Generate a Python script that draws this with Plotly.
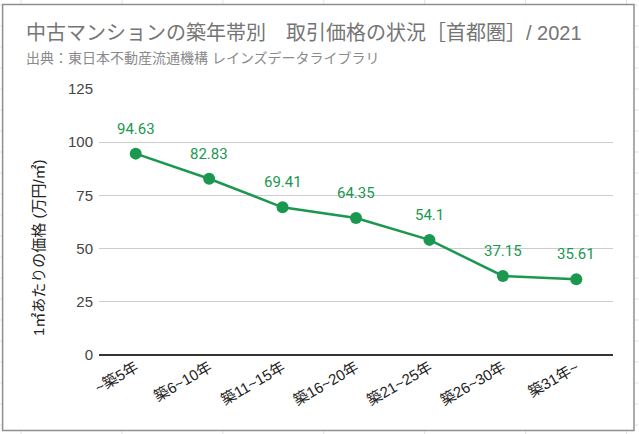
import plotly.graph_objects as go

categories = ["~築5年", "築6~10年", "築11~15年", "築16~20年", "築21~25年", "築26~30年", "築31年~"]
prices = [94.63, 82.83, 69.41, 64.35, 54.1, 37.15, 35.61]
price_labels = ["94.63", "82.83", "69.41", "64.35", "54.1", "37.15", "35.61"]
y_ticks = [0, 25, 50, 75, 100, 125]

title_text = "中古マンションの築年帯別　取引価格の状況［首都圏］/ 2021"
subtitle_text = "出典：東日本不動産流通機構 レインズデータライブラリ"
y_title = "1㎡あたりの価格 (万円/㎡)"

W, H = 639, 434
L, R, T, B = 99, 613.5, 89, 355
GREEN = "#1a9850"
SANS = "Liberation Sans, Arial, 'Noto Sans CJK JP', sans-serif"
ROBOTO = "Roboto, 'Noto Sans CJK JP', sans-serif"


def px(x):
    return (x - L) / (R - L)


def py(y):
    return (B - y) / (B - T)


fig = go.Figure()
fig.add_trace(go.Scatter(
    x=list(range(len(categories))), y=prices, mode="lines+markers",
    line=dict(color=GREEN, width=2.5),
    marker=dict(color=GREEN, size=12),
    hoverinfo="skip", showlegend=False,
))

annotations = []
for i, (v, t) in enumerate(zip(prices, price_labels)):
    annotations.append(dict(
        x=i, y=v, xref="x", yref="y", text=t, showarrow=False,
        yanchor="middle", yshift=25, font=dict(family=ROBOTO, size=15, color=GREEN),
    ))

annotations.append(dict(
    x=px(24), y=py(33), xref="paper", yref="paper", text=title_text,
    showarrow=False, xanchor="left", yanchor="middle",
    font=dict(family=SANS, size=20, color="#757575"),
))
annotations.append(dict(
    x=px(24), y=py(58), xref="paper", yref="paper", text=subtitle_text,
    showarrow=False, xanchor="left", yanchor="middle",
    font=dict(family=SANS, size=14, color="#8a8a8a"),
))
annotations.append(dict(
    x=px(38), y=py(248), xref="paper", yref="paper", text=y_title,
    showarrow=False, xanchor="center", yanchor="middle", textangle=-90,
    font=dict(family=SANS, size=15, color="#222222"),
))

shapes = []
# spreadsheet background grid outside the chart frame
grid_col = "#e3e3e3"
for gx in [21, 122, 223, 324, 425, 526, 627]:
    shapes.append(dict(type="line", xref="paper", yref="paper",
                       x0=px(gx), x1=px(gx), y0=py(0), y1=py(4),
                       line=dict(color=grid_col, width=1), layer="below"))
    shapes.append(dict(type="line", xref="paper", yref="paper",
                       x0=px(gx), x1=px(gx), y0=py(430), y1=py(434),
                       line=dict(color=grid_col, width=1), layer="below"))
for k in range(21):
    gy = 5 + 21 * k
    shapes.append(dict(type="line", xref="paper", yref="paper",
                       x0=px(635), x1=px(639), y0=py(gy), y1=py(gy),
                       line=dict(color=grid_col, width=1), layer="below"))
    shapes.append(dict(type="line", xref="paper", yref="paper",
                       x0=px(0), x1=px(2), y0=py(gy), y1=py(gy),
                       line=dict(color=grid_col, width=1), layer="below"))
# chart frame
shapes.append(dict(type="rect", xref="paper", yref="paper",
                   x0=px(2.5), x1=px(634.5), y0=py(4.5), y1=py(430.5),
                   line=dict(color="#8f8f8f", width=1.5), fillcolor="rgba(0,0,0,0)",
                   layer="below"))

fig.update_layout(
    width=W, height=H,
    margin=dict(l=L, r=W - R, t=T, b=H - B),
    paper_bgcolor="white", plot_bgcolor="white",
    annotations=annotations, shapes=shapes,
    xaxis=dict(
        tickmode="array", tickvals=list(range(len(categories))), ticktext=categories,
        range=[-0.5, len(categories) - 0.5], tickangle=-30,
        showgrid=False, zeroline=False, showline=False, ticks="",
        tickfont=dict(family=SANS, size=15, color="#222222"),
    ),
    yaxis=dict(
        range=[0, 125], tickvals=y_ticks, showgrid=True, gridcolor="#cccccc", gridwidth=1,
        zeroline=True, zerolinecolor="#333333", zerolinewidth=1.5,
        tickfont=dict(family=SANS, size=15, color="#444444"),
        ticks="", ticklen=0, ticklabelstandoff=5,
    ),
)

fig.write_html("out.html", config={"displayModeBar": False},
               post_script="document.body.style.margin='0';")
